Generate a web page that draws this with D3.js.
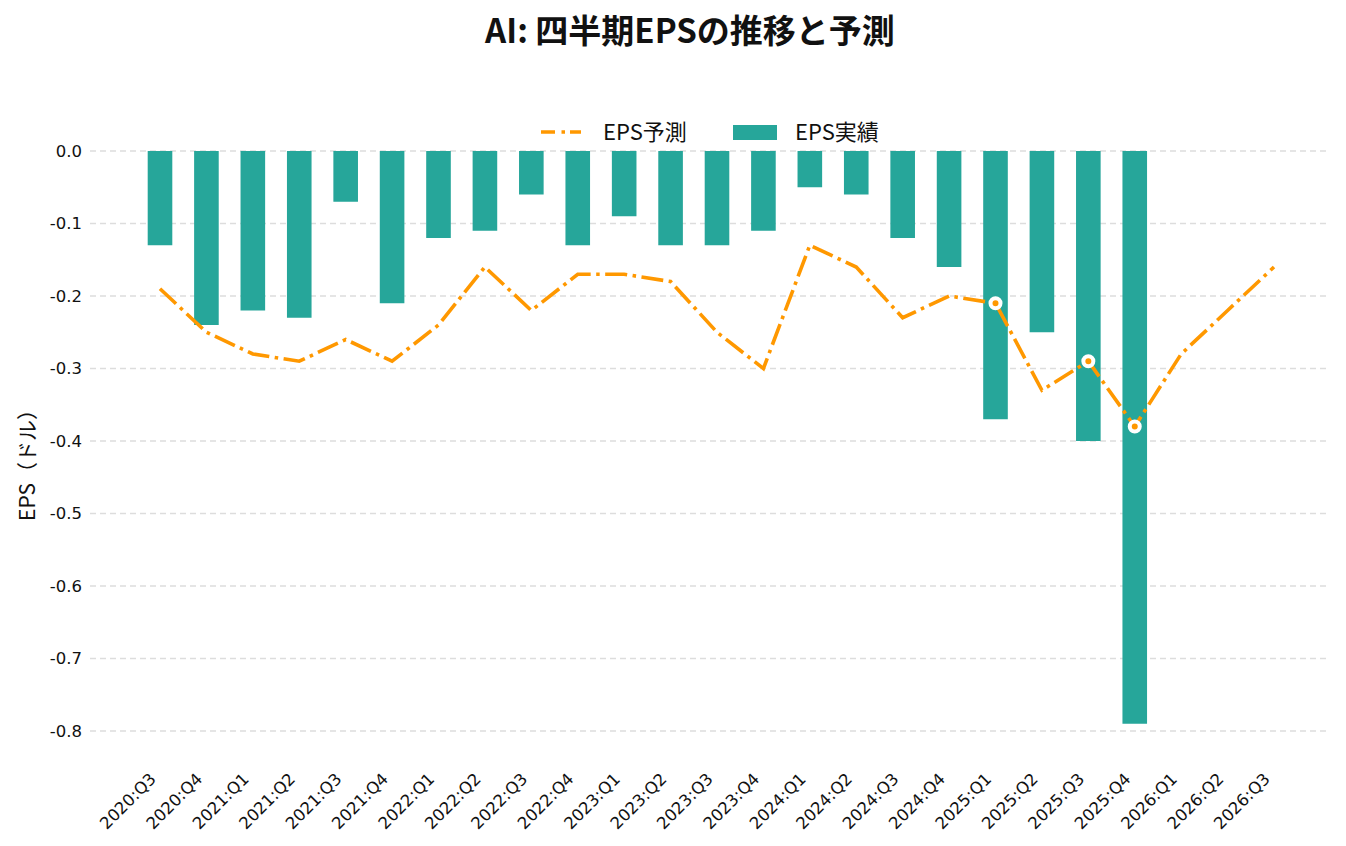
<!DOCTYPE html>
<meta charset="utf-8">
<style>
body { margin: 0; background: #fff; }
text { font-family: "Noto Sans CJK JP", "Noto Sans", sans-serif; fill: #111; }
.tick { font-family: "DejaVu Sans", "Noto Sans CJK JP", sans-serif; }
.grid line { stroke: #dddddd; stroke-width: 1.4px; stroke-dasharray: 6,4; }
</style>
<body>
<script src="https://d3js.org/d3.v7.min.js"></script>
<script>
var width = 1346,
    height = 846;

// quarters shown on the x axis
var quarters = ["2020:Q3", "2020:Q4", "2021:Q1", "2021:Q2", "2021:Q3", "2021:Q4",
  "2022:Q1", "2022:Q2", "2022:Q3", "2022:Q4", "2023:Q1", "2023:Q2", "2023:Q3", "2023:Q4",
  "2024:Q1", "2024:Q2", "2024:Q3", "2024:Q4", "2025:Q1", "2025:Q2", "2025:Q3", "2025:Q4",
  "2026:Q1", "2026:Q2", "2026:Q3"];

// actual EPS (no value yet for 2026)
var actual = [-0.13, -0.24, -0.22, -0.23, -0.07, -0.21,
  -0.12, -0.11, -0.06, -0.13, -0.09, -0.13, -0.13, -0.11,
  -0.05, -0.06, -0.12, -0.16, -0.37, -0.25, -0.40, -0.79];

// EPS estimates
var estimate = [-0.19, -0.25, -0.28, -0.29, -0.26, -0.29,
  -0.24, -0.16, -0.22, -0.17, -0.17, -0.18, -0.25, -0.30,
  -0.13, -0.16, -0.23, -0.20, -0.21, -0.33, -0.29, -0.38,
  -0.28, -0.22, -0.16];

// quarters with a marker on the estimate line
var marked = ["2025:Q1", "2025:Q3", "2025:Q4"];

var yTicks = [0, -0.1, -0.2, -0.3, -0.4, -0.5, -0.6, -0.7, -0.8];

var orange = "#ff9800",
    teal = "#26a69a";

var svg = d3.select("body").append("svg")
    .attr("width", width)
    .attr("height", height);

var x = d3.scalePoint()
    .domain(quarters)
    .range([160, 1274]);

var y = d3.scaleLinear()
    .domain([0, -0.8])
    .range([151, 731]);

var barW = x.step() * 0.53;

// grid
svg.append("g")
    .attr("class", "grid")
    .selectAll("line")
    .data(yTicks)
    .enter().append("line")
    .attr("x1", 90)
    .attr("x2", 1330)
    .attr("y1", d => y(d))
    .attr("y2", d => y(d));

// y axis labels
svg.append("g")
    .selectAll("text")
    .data(yTicks)
    .enter().append("text")
    .attr("class", "tick")
    .attr("x", 82)
    .attr("y", d => y(d))
    .attr("dy", "0.35em")
    .attr("text-anchor", "end")
    .attr("font-size", 16.5)
    .text(d => d3.format(".1f")(d).replace("−", "-"));

svg.append("text")
    .attr("transform", "translate(35,460) rotate(-90)")
    .attr("text-anchor", "middle")
    .attr("font-size", 21)
    .text("EPS（ドル）");

// bars
svg.append("g")
    .selectAll("rect")
    .data(actual)
    .enter().append("rect")
    .attr("x", (d, i) => x(quarters[i]) - barW / 2)
    .attr("y", y(0))
    .attr("width", barW)
    .attr("height", d => y(d) - y(0))
    .attr("fill", teal);

// estimate line
var line = d3.line()
    .x((d, i) => x(quarters[i]))
    .y(d => y(d));

svg.append("path")
    .datum(estimate)
    .attr("d", line)
    .attr("fill", "none")
    .attr("stroke", orange)
    .attr("stroke-width", 3.6)
    .attr("stroke-dasharray", "22,5.5,3.5,5.5");

svg.append("g")
    .selectAll("circle")
    .data(marked)
    .enter().append("circle")
    .attr("cx", d => x(d))
    .attr("cy", d => y(estimate[quarters.indexOf(d)]))
    .attr("r", 5)
    .attr("fill", orange)
    .attr("stroke", "#fff")
    .attr("stroke-width", 4);

// x axis labels
svg.append("g")
    .selectAll("text")
    .data(quarters)
    .enter().append("text")
    .attr("class", "tick")
    .attr("transform", d => "translate(" + (x(d) - 3) + ",780) rotate(-45)")
    .attr("text-anchor", "end")
    .attr("font-size", 16.5)
    .text(d => d);

// legend
var lg = svg.append("g");
lg.append("line")
    .attr("x1", 541).attr("x2", 581)
    .attr("y1", 132).attr("y2", 132)
    .attr("stroke", orange)
    .attr("stroke-width", 3.6)
    .attr("stroke-dasharray", "14,6.5,3.5,5,20");
lg.append("text")
    .attr("x", 603).attr("y", 132)
    .attr("dy", "0.35em")
    .attr("font-size", 22)
    .text("EPS予測");
lg.append("rect")
    .attr("x", 733).attr("y", 125)
    .attr("width", 44).attr("height", 15)
    .attr("fill", teal);
lg.append("text")
    .attr("x", 795).attr("y", 132)
    .attr("dy", "0.35em")
    .attr("font-size", 22)
    .text("EPS実績");

// title
svg.append("text")
    .attr("x", 690)
    .attr("y", 43)
    .attr("text-anchor", "middle")
    .attr("font-size", 33)
    .attr("font-weight", "bold")
    .text("AI: 四半期EPSの推移と予測");
</script>
</body>
</html>
